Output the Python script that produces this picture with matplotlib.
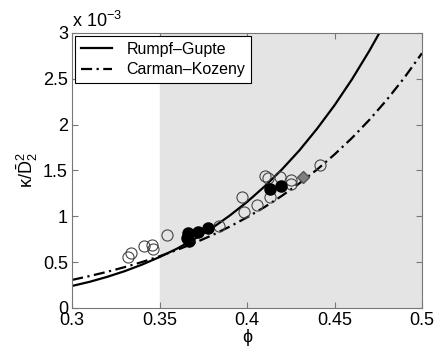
import matplotlib
matplotlib.use('Agg')
import matplotlib.pyplot as plt

plt.rcParams['font.family'] = ['Liberation Sans', 'DejaVu Sans']
plt.rcParams['mathtext.fontset'] = 'custom'
plt.rcParams['mathtext.rm'] = 'Liberation Sans'
plt.rcParams['mathtext.it'] = 'Liberation Sans'

# curves (values in units of 1e-3)
phi_rg = [0.30, 0.31, 0.32, 0.33, 0.34, 0.35, 0.36, 0.37, 0.38, 0.39, 0.40,
          0.41, 0.42, 0.43, 0.44, 0.45, 0.46, 0.47, 0.475, 0.48]
k_rg = [0.24, 0.285, 0.339, 0.401, 0.473, 0.555, 0.647, 0.753, 0.871, 1.006, 1.156,
        1.325, 1.512, 1.72, 1.954, 2.21, 2.494, 2.807, 2.977, 3.15]

phi_ck = [0.30, 0.31, 0.32, 0.33, 0.34, 0.35, 0.36, 0.37, 0.38, 0.39, 0.40,
          0.41, 0.42, 0.43, 0.44, 0.45, 0.46, 0.47, 0.48, 0.49, 0.50]
k_ck = [0.306, 0.348, 0.394, 0.445, 0.501, 0.564, 0.633, 0.709, 0.793, 0.886, 0.988,
        1.10, 1.224, 1.36, 1.509, 1.674, 1.854, 2.053, 2.272, 2.513, 2.778]

# measurements
phi_open = [0.3317, 0.3336, 0.3411, 0.3459, 0.3461, 0.3543, 0.3842, 0.397, 0.3983,
            0.4059, 0.4103, 0.4122, 0.4131, 0.4189, 0.425, 0.425, 0.4417]
k_open = [0.56, 0.60, 0.68, 0.69, 0.645, 0.80, 0.894, 1.207, 1.043,
          1.123, 1.44, 1.414, 1.214, 1.425, 1.396, 1.35, 1.56]

phi_filled = [0.3661, 0.3718, 0.3779, 0.367, 0.3659, 0.4131, 0.4192]
k_filled = [0.815, 0.83, 0.876, 0.725, 0.76, 1.294, 1.334]

phi_diamond = [0.4318]
k_diamond = [1.425]

fig = plt.figure(figsize=(4.4, 3.46), dpi=100)
ax = fig.add_axes([0.164, 0.110, 0.795, 0.795])

ax.axvspan(0.35, 0.5, color='#e4e4e4', zorder=0)

ax.plot(phi_rg, k_rg, '-', color='black', lw=1.6, label='Rumpf–Gupte', zorder=2)
ax.plot(phi_ck, k_ck, '-.', color='black', lw=1.6, label='Carman–Kozeny',
        dashes=(5, 2, 1, 2), zorder=2)

ax.plot(phi_open, k_open, 'o', mfc='none', mec='#444444', mew=0.8, ms=8, zorder=3)
ax.plot(phi_filled, k_filled, 'o', mfc='black', mec='black', ms=8, zorder=4)
ax.plot(phi_diamond, k_diamond, 'D', mfc='#808080', mec='#555555', ms=6.5, zorder=4)

ax.set_xlim(0.3, 0.5)
ax.set_ylim(0, 3)
ax.set_xticks([0.3, 0.35, 0.4, 0.45, 0.5])
ax.set_xticklabels(['0.3', '0.35', '0.4', '0.45', '0.5'])
ax.set_yticks([0, 0.5, 1, 1.5, 2, 2.5, 3])
ax.set_yticklabels(['0', '0.5', '1', '1.5', '2', '2.5', '3'])
ax.tick_params(direction='in', top=True, right=True, labelsize=13,
               length=4, color='#777777', pad=3)
for s in ax.spines.values():
    s.set_color('#777777')
    s.set_linewidth(0.8)

ax.set_xlabel('ϕ', fontsize=13, labelpad=0)
ax.set_ylabel(r'κ/$\bar{\mathrm{D}}_2^2$', fontsize=13, labelpad=2)
ax.text(0.0, 1.005, r'x 10$^{-3}$', transform=ax.transAxes, fontsize=13,
        ha='left', va='bottom')

leg = ax.legend(loc='upper left', fontsize=11.5, frameon=True, fancybox=False,
                edgecolor='black', framealpha=1, borderaxespad=0.2,
                handlelength=1.95, handletextpad=0.9, labelspacing=0.35,
                borderpad=0.35)
leg.get_frame().set_linewidth(0.8)

fig.savefig('out.png', dpi=100)
